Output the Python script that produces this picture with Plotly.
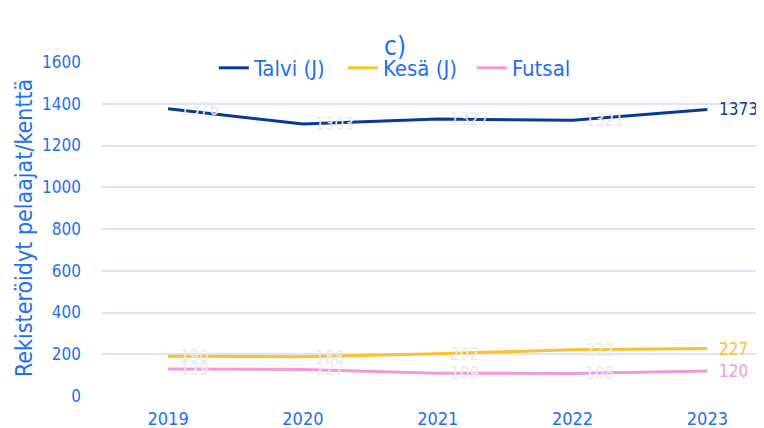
import plotly.graph_objects as go

years = ["2019", "2020", "2021", "2022", "2023"]
talvi = [1376, 1303, 1327, 1321, 1373]
kesa = [190, 188, 202, 222, 227]
futsal = [129, 127, 109, 108, 120]
series_names = ["Talvi (J)", "Kesä (J)", "Futsal"]
colors = ["#0b3a94", "#fcc12e", "#f09ad8"]
y_ticks = [0, 200, 400, 600, 800, 1000, 1200, 1400, 1600]

FONT = "DejaVu Sans Condensed, sans-serif"
BLUE = "#1f6ff0"

# page body has an 8px margin, so the figure is drawn 8px smaller
fig = go.Figure()
annotations = []
for name, vals, col in zip(series_names, [talvi, kesa, futsal], colors):
    n = len(vals)
    fig.add_trace(go.Scatter(
        x=years, y=vals, name=name, mode="lines",
        line=dict(color=col, width=3),
    ))
    for i, v in enumerate(vals):
        last = i == n - 1
        annotations.append(dict(
            x=i, y=v, xref="x", yref="y", text=str(v), showarrow=False,
            xanchor="left", yanchor="middle", xshift=11, borderpad=0,
            font=dict(family=FONT, size=17, color=col if last else "#ebebeb"),
        ))

annotations.append(dict(
    x=-0.1178, y=0.503, xref="paper", yref="paper", text="Rekisteröidyt pelaajat/kenttä",
    textangle=-90, showarrow=False, xanchor="center", yanchor="middle",
    font=dict(family=FONT, size=23, color=BLUE),
))

fig.update_layout(
    width=756, height=420,
    margin=dict(l=94, r=0, t=54, b=32, autoexpand=False),
    paper_bgcolor="white", plot_bgcolor="white",
    font=dict(family=FONT, color=BLUE, size=17),
    title=dict(text="c)", x=0.512, xanchor="center", y=0.9095, yanchor="middle",
               font=dict(family=FONT, size=26, color=BLUE)),
    legend=dict(orientation="h", x=0.169, xanchor="left", y=0.982, yanchor="middle",
                bgcolor="rgba(255,255,255,0)", font=dict(family=FONT, size=22, color=BLUE),
                itemwidth=30, tracegroupgap=0, entrywidth=84, entrywidthmode="pixels"),
    showlegend=True,
    annotations=annotations,
)
fig.update_xaxes(type="category", range=[-0.49, 4.42], showgrid=False, zeroline=False,
                 showline=False, ticks="", ticklabelstandoff=10,
                 tickfont=dict(size=18, color=BLUE))
fig.update_yaxes(range=[0, 1600], tickvals=y_ticks, showgrid=True, gridcolor="#dbe5f7",
                 gridwidth=1.5, zeroline=False, showline=False, ticks="", ticklabelstandoff=20,
                 tickfont=dict(size=17, color=BLUE))

fig.write_html("out.html")
